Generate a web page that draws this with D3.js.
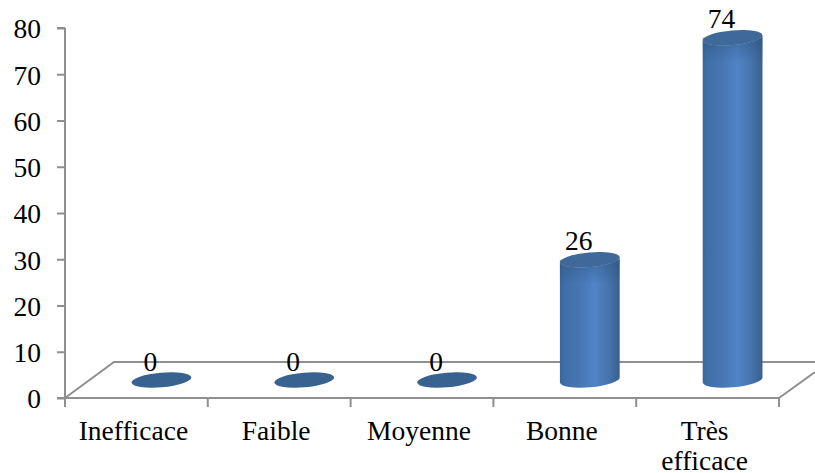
<!DOCTYPE html>
<html>
<head>
<meta charset="utf-8">
<style>
  html, body { margin: 0; background: #fff; }
  svg { display: block; }
  text { font-family: "Liberation Serif", serif; fill: #000; }
</style>
<script src="https://cdn.jsdelivr.net/npm/d3@7/dist/d3.min.js"></script>
</head>
<body>
<svg id="chart" width="815" height="473"></svg>
<script>
const categories = ["Inefficace", "Faible", "Moyenne", "Bonne", "Très efficace"];
const values = [0, 0, 0, 26, 74];
const yTicks = [0, 10, 20, 30, 40, 50, 60, 70, 80];

const axisColor = "#8f8f8f";
const fontSize = 27.5;
const floor = { dx: 49, dy: 36, rightEnd: 815 };
const cyl = { shift: 25, rx: 30, ry: 7.3, tilt: 5, lift: 18 };

const svg = d3.select("#chart");
const x = d3.scaleBand().domain(categories).range([65, 779]);
const y = d3.scaleLinear().domain([0, 80]).range([398, 28]);

// Shading that wraps around each cylinder body
const defs = svg.append("defs");
const grad = defs.append("linearGradient").attr("id", "body");
[[0, "#3a6597"], [0.08, "#3f6ea9"], [0.35, "#4877b5"], [0.58, "#5084c6"],
 [0.82, "#4673ab"], [1, "#395f8c"]].forEach(([o, c]) =>
  grad.append("stop").attr("offset", o).attr("stop-color", c));

// Soft shadow falling on the body just below the cap
const shade = defs.append("linearGradient").attr("id", "capShadow")
  .attr("x1", 0).attr("x2", 0).attr("y1", 0).attr("y2", 1);
shade.append("stop").attr("offset", 0).attr("stop-color", "#2f5580").attr("stop-opacity", 0.55);
shade.append("stop").attr("offset", 1).attr("stop-color", "#2f5580").attr("stop-opacity", 0);

// Floor of the 3D plot: back edge and the two slanted sides
const wall = svg.append("g").attr("fill", "none")
  .attr("stroke", axisColor).attr("stroke-width", 2);
const [x0, x1] = x.range();
const base = y(0);
wall.append("path").attr("d", d3.line()([
  [x0, base], [x0 + floor.dx, base - floor.dy], [floor.rightEnd, base - floor.dy]
]));
wall.append("path").attr("d", d3.line()([
  [x1, base], [floor.rightEnd, base - 26]
]));

// Value axis
const yAxis = svg.append("g").attr("transform", `translate(${x0},0)`)
  .call(d3.axisLeft(y).tickValues(yTicks).tickSize(8).tickPadding(16).tickFormat(d3.format("d")));
yAxis.selectAll("line, path").attr("stroke", axisColor).attr("stroke-width", 2);
yAxis.select("path").attr("d", `M0,${y(80)}H-8M0,${y(80)}V${y(0)}H-8`);
yAxis.selectAll("text")
  .attr("font-size", fontSize).attr("font-family", "Liberation Serif").attr("fill", "#000")
  .attr("y", 1);

// Category axis: ticks sit on the band boundaries, labels below the axis
const xAxis = svg.append("g").attr("transform", `translate(0,${base})`);
xAxis.append("line").attr("x1", x0).attr("x2", x1)
  .attr("stroke", axisColor).attr("stroke-width", 2);
xAxis.selectAll(".tick").data(d3.range(categories.length + 1)).join("line")
  .attr("class", "tick")
  .attr("x1", i => x0 + i * x.step()).attr("x2", i => x0 + i * x.step())
  .attr("y1", 0).attr("y2", 9)
  .attr("stroke", axisColor).attr("stroke-width", 2);
const labels = xAxis.selectAll(".cat").data(categories).join("text")
  .attr("class", "cat")
  .attr("text-anchor", "middle")
  .attr("font-size", fontSize)
  .attr("y", 41.5);
labels.each(function (d) {
  const cx = x(d) + x.bandwidth() / 2 - 3;
  d.split(" ").forEach((word, i) => {
    d3.select(this).append("tspan").attr("x", cx).attr("dy", i ? 30 : 0).text(word);
  });
});

// Cylinders, sitting on the floor behind the axis line
const rad = cyl.tilt * Math.PI / 180;
const ex = cyl.rx * Math.cos(rad), ey = cyl.rx * Math.sin(rad);
const centerX = d => x(d) + x.bandwidth() / 2 + cyl.shift;
const topY = v => y(v) - cyl.lift;
const botY = () => y(0) - cyl.lift;

const bars = svg.append("g").selectAll("g")
  .data(categories.map((c, i) => ({ c, v: values[i] })))
  .join("g");

const bodyPath = d => {
  const cx = centerX(d.c);
  return `M${cx - ex},${topY(d.v) + ey}` +
    `L${cx - ex},${botY() + ey}` +
    `A${cyl.rx},${cyl.ry} ${-cyl.tilt} 0 0 ${cx + ex},${botY() - ey}` +
    `L${cx + ex},${topY(d.v) - ey}` +
    `A${cyl.rx},${cyl.ry} ${-cyl.tilt} 0 1 ${cx - ex},${topY(d.v) + ey}Z`;
};

const standing = bars.filter(d => d.v > 0);
standing.append("path").attr("fill", "url(#body)").attr("d", bodyPath);
standing.append("rect")
  .attr("fill", "url(#capShadow)")
  .attr("x", d => centerX(d.c) - ex)
  .attr("width", 2 * ex)
  .attr("y", d => topY(d.v))
  .attr("height", 24);

bars.append("ellipse")
  .attr("rx", cyl.rx).attr("ry", cyl.ry)
  .attr("fill", d => d.v > 0 ? "#3e6998" : "#38628f")
  .attr("transform", d => `translate(${centerX(d.c)},${topY(d.v)}) rotate(${-cyl.tilt})`);

// Value labels above each cylinder
bars.append("text")
  .attr("text-anchor", "middle")
  .attr("font-size", fontSize)
  .attr("x", d => centerX(d.c) - 11)
  .attr("y", d => topY(d.v) - 9.5)
  .text(d => d.v);
</script>
</body>
</html>
